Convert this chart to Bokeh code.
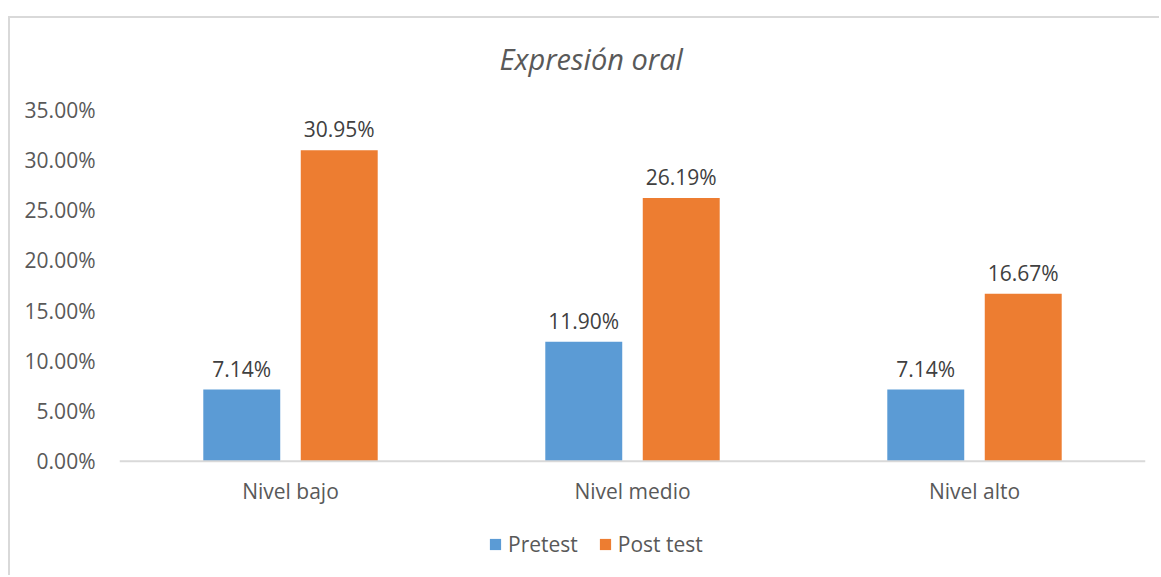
from bokeh.plotting import figure
from bokeh.models import (ColumnDataSource, FactorRange, Legend, LegendItem,
                          FixedTicker, PrintfTickFormatter, Range1d, Span)
from bokeh.transform import dodge
from bokeh.core.properties import value
from bokeh.embed import file_html
from bokeh.resources import INLINE

categories = ["Nivel bajo", "Nivel medio", "Nivel alto"]
pretest = [7.14, 11.90, 7.14]
posttest = [30.95, 26.19, 16.67]
series_names = ["Pretest", "Post test"]
y_ticks = [0, 5, 10, 15, 20, 25, 30, 35]

FONT = "Open Sans"
BLUE = "#5b9bd5"
ORANGE = "#ed7d31"
TXT = "#595959"

# layout geometry (pixels on the page)
FRAME_TOP_PX = 100           # frame top (just below the title panel)
TOP_PX, ZERO_PX, BOTTOM_PX = 110, 461, 577
y_max = 35
px_per_unit = (ZERO_PX - TOP_PX) / y_max
y_min = -(BOTTOM_PX - ZERO_PX) / px_per_unit
y_end = y_max + (TOP_PX - FRAME_TOP_PX) / px_per_unit

src = ColumnDataSource(dict(
    cat=categories,
    zero=[0] * len(categories),
    pre=pretest,
    post=posttest,
    pre_lbl=[f"{v:.2f}%" for v in pretest],
    post_lbl=[f"{v:.2f}%" for v in posttest],
))

p = figure(width=1151, height=559, x_range=FactorRange(*categories),
           y_range=Range1d(y_min, y_end), output_backend="svg", toolbar_location=None,
           min_border_left=109, min_border_right=16, min_border_top=0,
           min_border_bottom=0)
p.styles = {"border-left": "2px solid #d9d9d9", "border-top": "2px solid #d9d9d9",
            "margin-top": "16px", "margin-left": "8px"}
p.outline_line_color = None
p.background_fill_color = "white"
p.border_fill_color = "white"
p.xgrid.grid_line_color = None
p.ygrid.grid_line_color = None
p.xaxis.visible = False

bw = 0.225
off = 0.1425
r1 = p.vbar(x=dodge("cat", -off, range=p.x_range), top="pre", width=bw,
            source=src, fill_color=BLUE, line_color=None)
r2 = p.vbar(x=dodge("cat", off, range=p.x_range), top="post", width=bw,
            source=src, fill_color=ORANGE, line_color=None)

for xo, col, lbl in [(-off, "pre", "pre_lbl"), (off, "post", "post_lbl")]:
    p.text(x=dodge("cat", xo, range=p.x_range), y=col, text=lbl, source=src,
           text_align="center", text_baseline="alphabetic", y_offset=-21,
           text_font=value(FONT), text_font_size="21px", text_color="#404040")

# category axis: baseline line and category labels
p.add_layout(Span(location=0, dimension="width", line_color="#d9d9d9", line_width=2))
p.text(x="cat", y="zero", text="cat", source=src, text_align="center",
       text_baseline="alphabetic", y_offset=30, text_font=value(FONT),
       text_font_size="21px", text_color=TXT)

p.yaxis.ticker = FixedTicker(ticks=y_ticks)
p.yaxis.formatter = PrintfTickFormatter(format="%.2f%%")
p.yaxis.axis_line_color = None
p.yaxis.major_tick_line_color = None
p.yaxis.minor_tick_line_color = None
p.yaxis.major_label_standoff = 18
p.yaxis.major_label_text_font = FONT
p.yaxis.major_label_text_font_size = "21px"
p.yaxis.major_label_text_color = TXT

p.title.text = "Expresión oral"
p.title.align = "left"
p.title.vertical_align = "top"
p.title.offset = 380
p.title.standoff = 40
p.title.text_font = FONT
p.title.text_font_style = "italic"
p.title.text_font_size = "29px"
p.title.text_color = TXT

legend = Legend(items=[LegendItem(label=series_names[0], renderers=[r1]),
                       LegendItem(label=series_names[1], renderers=[r2])],
                orientation="horizontal", location=(369, 19),
                label_text_font=FONT, label_text_font_size="21px",
                label_text_color=TXT, glyph_width=14, glyph_height=14,
                spacing=20, label_standoff=6, border_line_color=None,
                background_fill_alpha=0, padding=0, margin=0)
p.add_layout(legend, "center")

open("out.html", "w").write(file_html(p, INLINE))
